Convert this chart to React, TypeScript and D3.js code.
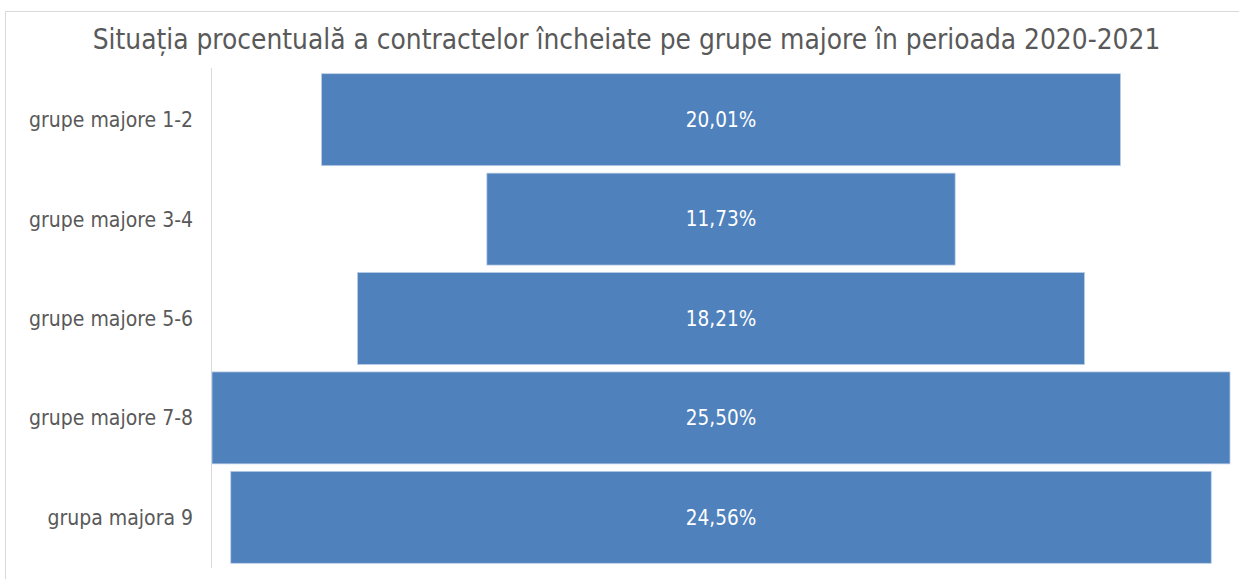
import React from "react";
import * as d3 from "d3";

const categories = ["grupe majore 1-2", "grupe majore 3-4", "grupe majore 5-6", "grupe majore 7-8", "grupa majora 9"];
const values = [20.01, 11.73, 18.21, 25.5, 24.56];
const labels = ["20,01%", "11,73%", "18,21%", "25,50%", "24,56%"];
const title = "Situația procentuală a contractelor încheiate pe grupe majore în perioada 2020-2021";

const W = 1239;
const H = 579;
const FONT = "'DejaVu Sans Condensed', 'DejaVu Sans', sans-serif";

export default function App() {
  const maxV = d3.max(values) as number;
  const x = d3.scaleLinear().domain([-maxV / 2, maxV / 2]).range([212, 1230]);
  const y = d3.scaleBand<string>().domain(categories).range([70, 567]).paddingInner(0.075).paddingOuter(0.0375);

  return (
    <svg width={W} height={H} style={{ position: "absolute", left: 0, top: 0, background: "#fff" }}>
      <rect x={5.5} y={11.5} width={1240} height={580} fill="#fff" stroke="#d9d9d9" />
      <text x={626.5} y={49} textAnchor="middle" fontFamily={FONT} fontSize={27.8} fill="#595959">
        {title}
      </text>
      <line x1={211.5} x2={211.5} y1={68} y2={568} stroke="#d9d9d9" />
      {categories.map((c, i) => {
        const v = values[i];
        const y0 = y(c) as number;
        return (
          <g key={c}>
            <rect
              x={x(-v / 2)}
              y={y0}
              width={x(v / 2) - x(-v / 2)}
              height={y.bandwidth()}
              fill="#4f81bd"
              stroke="#b9cde5"
              strokeWidth={0.75}
            />
            <text
              x={x(0)}
              y={y0 + y.bandwidth() / 2}
              dy="0.36em"
              textAnchor="middle"
              fontFamily={FONT}
              fontSize={20.5}
              fill="#fff"
            >
              {labels[i]}
            </text>
            <text
              x={193}
              y={y0 + y.bandwidth() / 2}
              dy="0.36em"
              textAnchor="end"
              fontFamily={FONT}
              fontSize={21}
              fill="#595959"
            >
              {c}
            </text>
          </g>
        );
      })}
    </svg>
  );
}
